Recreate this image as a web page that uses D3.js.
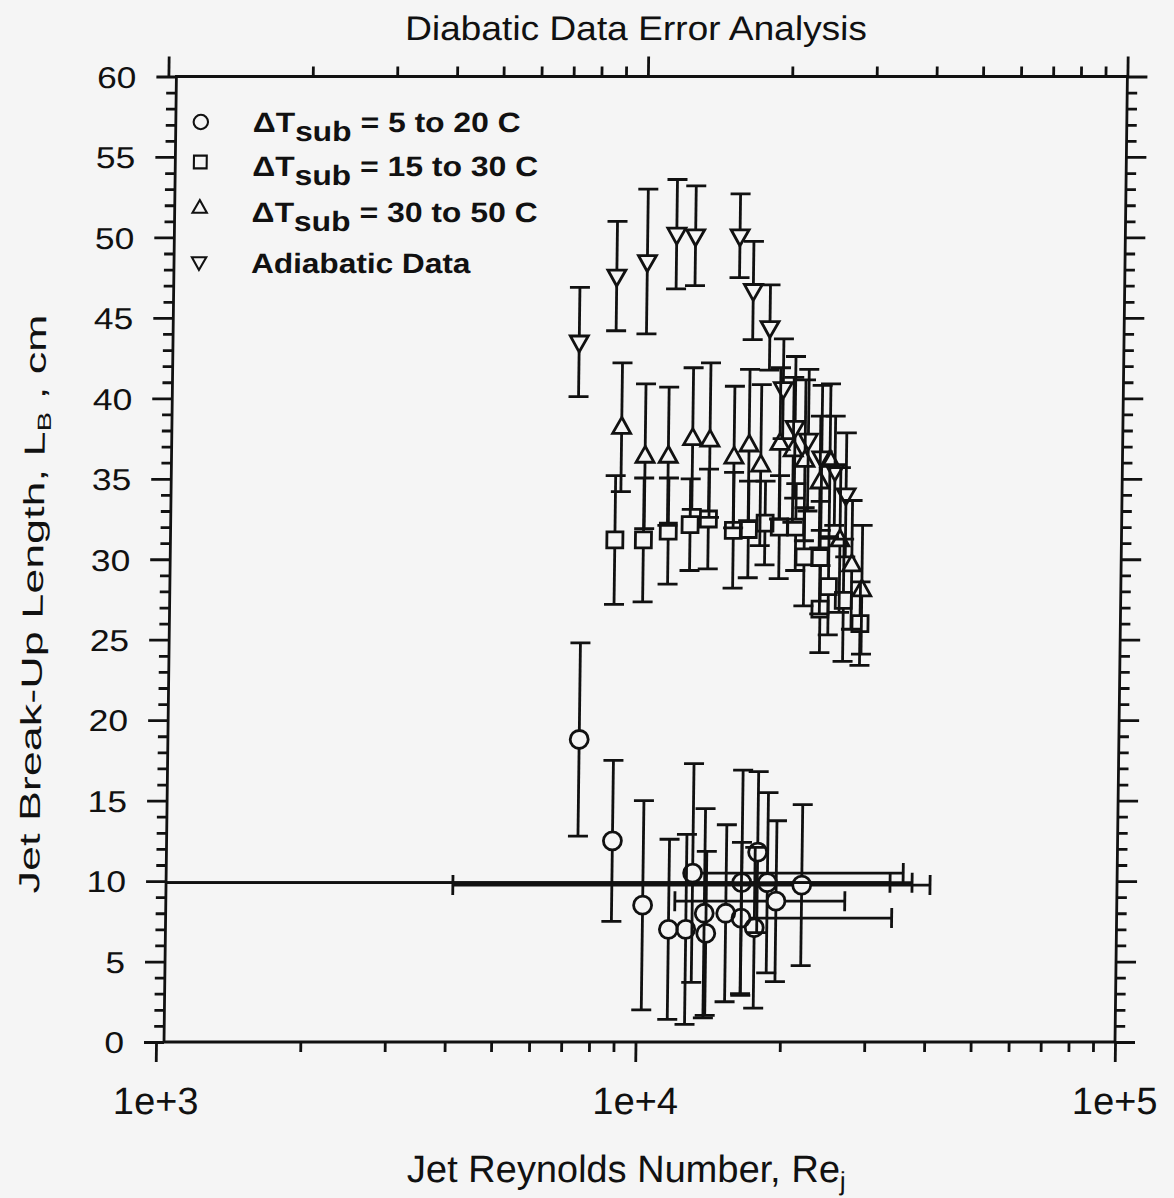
<!DOCTYPE html>
<html><head><meta charset="utf-8">
<script src="https://cdn.jsdelivr.net/npm/d3@7"></script>
<style>
html,body{margin:0;padding:0;background:#f5f5f5;}
svg{display:block;}
text{font-family:"Liberation Sans", Arial, Helvetica, sans-serif;fill:#111;}
</style></head><body>
<svg id="chart" width="1174" height="1198"></svg>
<script>
// ---------------- data ----------------
const titleText = "Diabatic Data Error Analysis";
const xLabelText = "Jet Reynolds Number, Re";
const xLabelSub = "j";
const yLabelText = "Jet Break-Up Length, L";
const yLabelSub = "B";
const yLabelTail = " , cm";

const xMajorTicks = [1e3, 1e4, 1e5];
const xMajorLabels = ["1e+3", "1e+4", "1e+5"];
const xMinorTicks = [2e3,3e3,4e3,5e3,6e3,7e3,8e3,9e3,2e4,3e4,4e4,5e4,6e4,7e4,8e4,9e4];
const yMajorTicks = [0,5,10,15,20,25,30,35,40,45,50,55,60];
const yMinorTicks = d3.range(0, 61, 1).filter(v => v % 5 !== 0);

const legendPrefix = ["ΔT", "ΔT", "ΔT", ""];
const legendSub = ["sub", "sub", "sub", ""];
const legendTail = [" = 5 to 20 C", " = 15 to 30 C", " = 30 to 50 C", "Adiabatic Data"];
const legendSymbols = ["circle", "square", "up", "down"];

// ΔTsub = 5 to 20 C (circles)
const circleRe  = [7490, 8840, 10260, 11630, 12640, 13020, 13800, 13920, 15300, 16490, 16470, 17560, 17770, 18650, 19460, 22000];
const circleL   = [18.8, 12.5, 8.5, 7.0, 7.0, 10.5, 8.0, 6.75, 8.0, 9.9, 7.7, 7.1, 11.8, 9.9, 8.75, 9.75];
const circleErr = [6.0, 5.0, 6.5, 5.6, 5.9, 6.8, 6.5, 5.1, 5.5, 7.0, 4.7, 5.0, 5.0, 5.6, 5.0, 5.0];
const circleReLow  = [null,null,null,null,null,null,null,null,null,500,null,null,null,500,11975,4120];
const circleReHigh = [null,null,null,null,null,35790,null,null,null,33620,33950,null,null,37370,27080,40740];

// ΔTsub = 15 to 30 C (squares)
const squareRe  = [8780, 10070, 11340, 12590, 13740, 15500, 16660, 18040, 19330, 20910, 21800, 23540, 24550, 23610, 26400, 28640];
const squareL   = [31.2, 31.2, 31.75, 32.15, 32.5, 31.8, 31.85, 32.25, 32.0, 32.0, 30.15, 30.1, 28.3, 26.9, 27.45, 26.0];
const squareErr = [4.0, 3.85, 3.3, 2.85, 3.1, 3.6, 3.0, 2.6, 3.2, 2.7, 3.05, 3.5, 3.0, 2.7, 3.8, 2.6];

// ΔTsub = 30 to 50 C (up triangles)
const upRe  = [9010, 10100, 11290, 12680, 13780, 15480, 16630, 17610, 19290, 20570, 21770, 23430, 24550, 25880, 27430, 28830];
const upL   = [38.2, 36.4, 36.4, 37.5, 37.4, 36.35, 37.1, 35.85, 37.2, 36.8, 36.15, 34.8, 36.15, 31.2, 29.65, 28.1];
const upErr = [4.0, 4.5, 4.3, 4.4, 4.8, 4.4, 4.7, 5.0, 4.7, 4.5, 5.0, 4.1, 4.75, 4.5, 4.0, 4.0];

// Adiabatic data (down triangles)
const adiaRe  = [7310, 8720, 10090, 11600, 12700, 15720, 16810, 18250, 19530, 20720, 22100, 23590, 25160, 26570];
const adiaL   = [43.5, 47.6, 48.5, 50.2, 50.1, 50.1, 46.7, 44.4, 40.6, 38.2, 37.4, 36.3, 35.5, 34.0];
const adiaErr = [3.4, 3.4, 4.5, 3.4, 3.1, 2.6, 3.05, 2.65, 3.1, 4.4, 4.4, 4.5, 3.4, 3.85];

// ---------------- drawing ----------------
const W = 1174, H = 1198;
const frameL = 164, frameR = 1115, frameT = 76.5, frameB = 1042;
const x = d3.scaleLog().domain([1e3, 1e5]).range([156, 1115]);
const y = d3.scaleLinear().domain([0, 60]).range([frameB, frameT]);
const SW = 2.8;

const svg = d3.select("#chart");
svg.append("rect").attr("width", W).attr("height", H).attr("fill", "#f5f5f5");
// the scanned page is slightly sheared
const g = svg.append("g").attr("transform", "translate(13.39,0) skewX(-0.736)");

function styleAxis(sel) {
  sel.select(".domain").remove();
  sel.selectAll(".tick line").attr("stroke", "#111").attr("stroke-width", SW);
}

// bottom axis
const bMaj = g.append("g").attr("transform", `translate(0,${frameB})`)
  .call(d3.axisBottom(x).tickValues(xMajorTicks).tickSize(20).tickPadding(25)
    .tickFormat((d, i) => xMajorLabels[i]));
styleAxis(bMaj);
bMaj.selectAll("text").attr("font-size", 38).attr("fill", "#111");
const bMin = g.append("g").attr("transform", `translate(0,${frameB})`)
  .call(d3.axisBottom(x).tickValues(xMinorTicks).tickSize(10).tickFormat(""));
styleAxis(bMin);
// top axis
const tMaj = g.append("g").attr("transform", `translate(0,${frameT})`)
  .call(d3.axisTop(x).tickValues(xMajorTicks).tickSize(20).tickFormat(""));
styleAxis(tMaj);
const tMin = g.append("g").attr("transform", `translate(0,${frameT})`)
  .call(d3.axisTop(x).tickValues(xMinorTicks).tickSize(10).tickFormat(""));
styleAxis(tMin);
// left axis
const lMaj = g.append("g").attr("transform", `translate(${frameL},0)`)
  .call(d3.axisLeft(y).tickValues(yMajorTicks).tickSize(20).tickPadding(20));
styleAxis(lMaj);
lMaj.selectAll("text").attr("font-size", 30).attr("fill", "#111").attr("dy", "0.36em")
  .each(function() {
    const w = this.getComputedTextLength();
    d3.select(this).attr("textLength", w * 1.18).attr("lengthAdjust", "spacingAndGlyphs");
  });
const lMin = g.append("g").attr("transform", `translate(${frameL},0)`)
  .call(d3.axisLeft(y).tickValues(yMinorTicks).tickSize(10).tickFormat(""));
styleAxis(lMin);
// right axis
const rMaj = g.append("g").attr("transform", `translate(${frameR},0)`)
  .call(d3.axisRight(y).tickValues(yMajorTicks).tickSize(20).tickFormat(""));
styleAxis(rMaj);
const rMin = g.append("g").attr("transform", `translate(${frameR},0)`)
  .call(d3.axisRight(y).tickValues(yMinorTicks).tickSize(10).tickFormat(""));
styleAxis(rMin);

// frame
g.append("rect").attr("x", frameL).attr("y", frameT)
  .attr("width", frameR - frameL).attr("height", frameB - frameT)
  .attr("fill", "none").attr("stroke", "#111").attr("stroke-width", SW);

// title
g.append("text").attr("x", 623).attr("y", 40).attr("text-anchor", "middle")
  .attr("font-size", 34).attr("textLength", 462).attr("lengthAdjust", "spacingAndGlyphs")
  .text(titleText);

// x label
const xl = g.append("text").attr("x", 628).attr("y", 1182).attr("text-anchor", "middle")
  .attr("font-size", 38);
xl.append("tspan").text(xLabelText);
xl.append("tspan").attr("font-size", 26).attr("dy", 8).text(xLabelSub);

// y label (stretched along its length as in the scan)
const yl = g.append("text").attr("transform", "translate(37,604) rotate(-90) scale(1.55,1)")
  .attr("text-anchor", "middle").attr("font-size", 29);
yl.append("tspan").text(yLabelText);
yl.append("tspan").attr("font-size", 19).attr("dy", 6).text(yLabelSub);
yl.append("tspan").attr("dy", -6).text(yLabelTail);

// markers
const markerPath = {
  circle: "M9,0A9,9 0 1,1 -9,0A9,9 0 1,1 9,0Z",
  square: "M-8,-8H8V8H-8Z",
  up: "M0,-10L9,6H-9Z",
  down: "M0,10L9,-6H-9Z"
};
const gapTop = {circle: 9, square: 8, up: 10, down: 6};
const gapBot = {circle: 9, square: 8, up: 6, down: 10};
const gapSide = {circle: 9, square: 8, up: 7, down: 7};

g.append("defs").append("clipPath").attr("id", "plotclip")
  .append("rect").attr("x", frameL).attr("y", frameT - 30)
  .attr("width", frameR - frameL + 30).attr("height", frameB - frameT + 60);
const data = g.append("g").attr("clip-path", "url(#plotclip)");

function drawSeries(re, L, err, type, reLo, reHi) {
  const sg = data.append("g").attr("stroke", "#111").attr("stroke-width", SW).attr("fill", "none");
  re.forEach((r, i) => {
    const cx = x(r), cy = y(L[i]);
    const yt = y(L[i] + err[i]), yb = y(L[i] - err[i]);
    // vertical error bar
    sg.append("line").attr("x1", cx).attr("x2", cx).attr("y1", yt).attr("y2", cy - gapTop[type]);
    sg.append("line").attr("x1", cx).attr("x2", cx).attr("y1", cy + gapBot[type]).attr("y2", yb);
    sg.append("line").attr("x1", cx - 10).attr("x2", cx + 10).attr("y1", yt).attr("y2", yt);
    sg.append("line").attr("x1", cx - 10).attr("x2", cx + 10).attr("y1", yb).attr("y2", yb);
    // horizontal error bar
    if (reLo && reLo[i] != null) {
      const xl0 = x(reLo[i]);
      sg.append("line").attr("x1", xl0).attr("x2", cx - gapSide[type]).attr("y1", cy).attr("y2", cy);
      sg.append("line").attr("x1", xl0).attr("x2", xl0).attr("y1", cy - 10).attr("y2", cy + 10);
    }
    if (reHi && reHi[i] != null) {
      const xh = x(reHi[i]);
      sg.append("line").attr("x1", cx + gapSide[type]).attr("x2", xh).attr("y1", cy).attr("y2", cy);
      sg.append("line").attr("x1", xh).attr("x2", xh).attr("y1", cy - 10).attr("y2", cy + 10);
    }
    sg.append("path").attr("d", markerPath[type]).attr("transform", `translate(${cx},${cy})`);
  });
}
drawSeries(circleRe, circleL, circleErr, "circle", circleReLow, circleReHigh);
drawSeries(squareRe, squareL, squareErr, "square");
drawSeries(upRe, upL, upErr, "up");
drawSeries(adiaRe, adiaL, adiaErr, "down");

// legend
const legBase = [131.5, 176, 222, 272.5];
const legSymY = [122, 162, 208, 262];
const legWidth = [268, 286, 286, 220];
const leg = g.append("g");
legendSymbols.forEach((s, i) => {
  leg.append("path").attr("d", markerPath[s])
    .attr("transform", `translate(189,${legSymY[i]}) scale(0.8)`)
    .attr("fill", "none").attr("stroke", "#111").attr("stroke-width", 2.6);
  const tg = leg.append("g").attr("transform", `translate(241,${legBase[i]})`);
  const t = tg.append("text").attr("x", 0).attr("y", 0)
    .attr("font-size", 28).attr("font-weight", "bold");
  if (legendPrefix[i]) {
    t.append("tspan").text(legendPrefix[i]);
    t.append("tspan").attr("dy", 9).text(legendSub[i]);
    t.append("tspan").attr("dy", -9).text(legendTail[i]);
  } else {
    t.append("tspan").text(legendTail[i]);
  }
  const bw = t.node().getBBox().width;
  t.attr("transform", `scale(${legWidth[i] / bw},1)`);
});
</script>
</body></html>
